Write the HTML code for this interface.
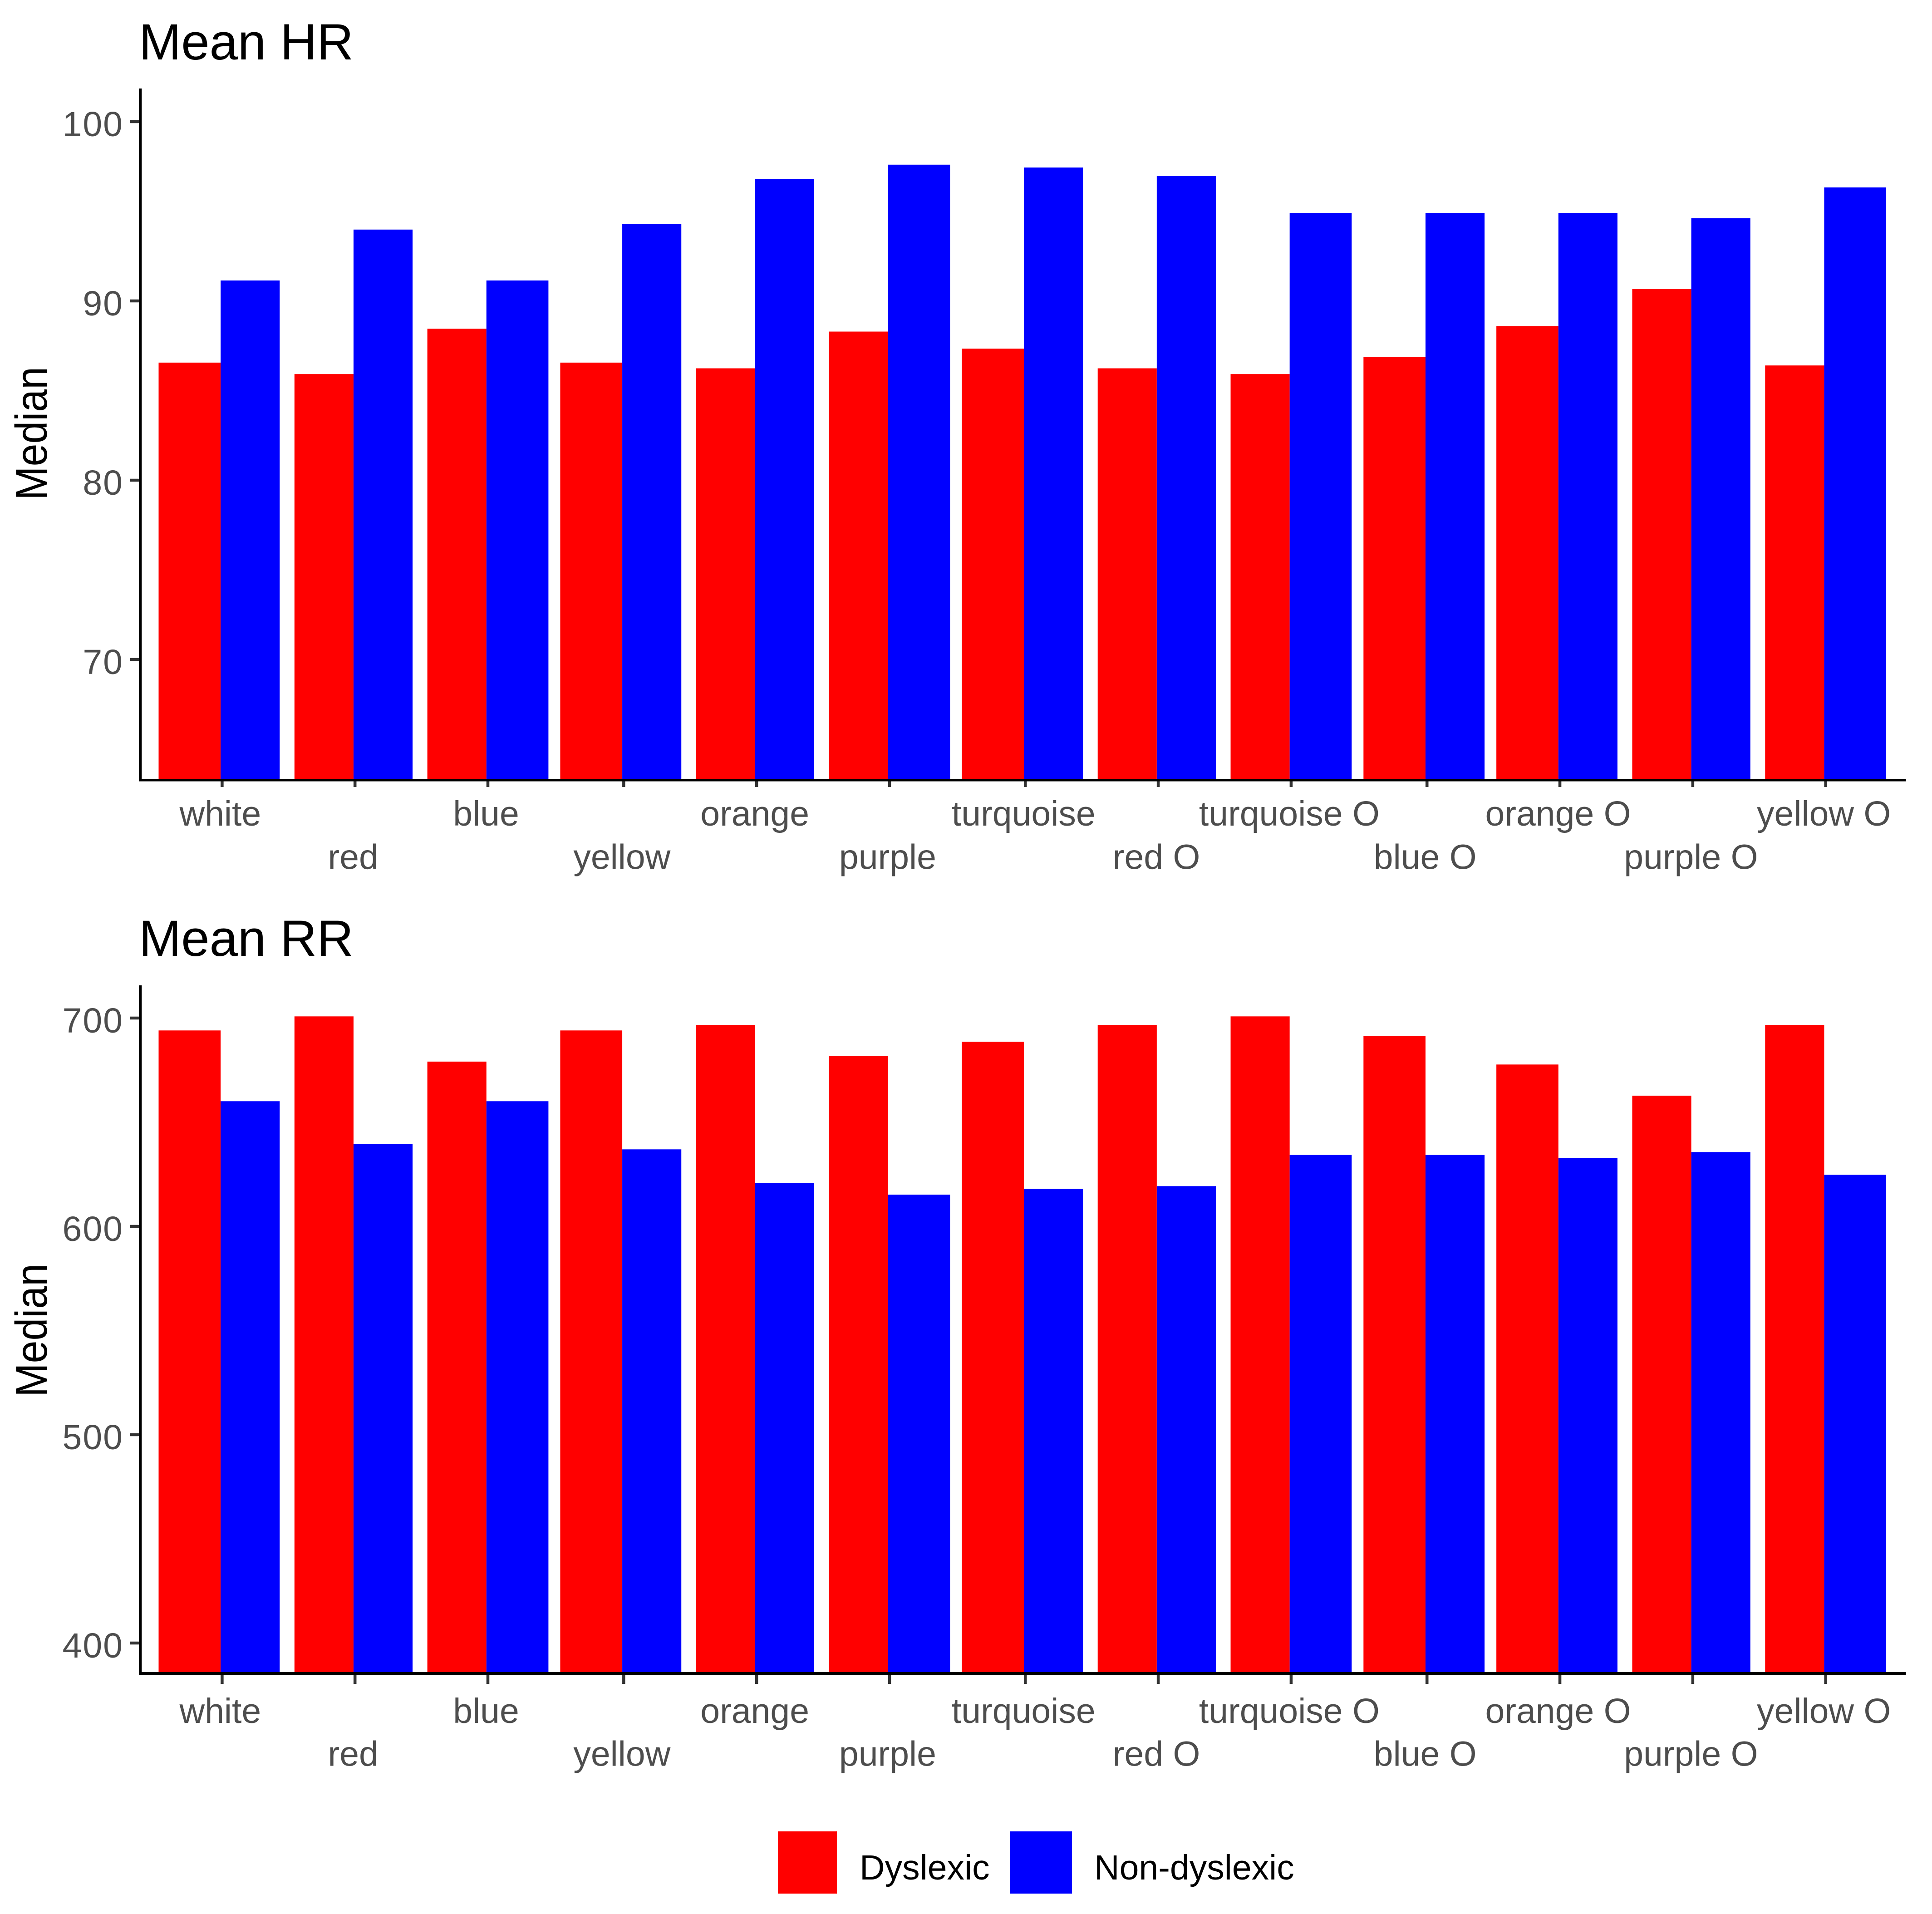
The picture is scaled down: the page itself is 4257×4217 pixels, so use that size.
<!DOCTYPE html>
<html lang="en">
<head>
<meta charset="utf-8">
<title>Mean HR and Mean RR by colour</title>
<style>
html,body{margin:0;padding:0;background:#fff;}
svg{display:block;font-family:"Liberation Sans",Arial,sans-serif;}
</style>
</head>
<body>
<svg id="chart" xmlns="http://www.w3.org/2000/svg" width="4257" height="4217" viewBox="0 0 4257 4217">
  <rect x="0" y="0" width="4257" height="4217" fill="#ffffff"/>
  <text x="306" y="131" font-size="112" fill="#000">Mean HR</text>
  <text x="306" y="2106" font-size="112" fill="#000">Mean RR</text>
  <text transform="translate(103 955) rotate(-90)" text-anchor="middle" font-size="98" textLength="294" lengthAdjust="spacingAndGlyphs" fill="#000">Median</text>
  <text transform="translate(103 2931) rotate(-90)" text-anchor="middle" font-size="98" textLength="294" lengthAdjust="spacingAndGlyphs" fill="#000">Median</text>
  <g id="hr-panel"></g>
  <g id="rr-panel"></g>
  <g>
    <rect x="1714" y="4035" width="130" height="137" fill="#ff0000"/>
    <text x="1894" y="4141" font-size="77" fill="#000">Dyslexic</text>
    <rect x="2225" y="4035" width="137" height="137" fill="#0000ff"/>
    <text x="2411" y="4141" font-size="77" fill="#000">Non-dyslexic</text>
  </g>
</svg>
<script>
const categories = ["white","red","blue","yellow","orange","purple","turquoise","red O","turquoise O","blue O","orange O","purple O","yellow O"];
const hrDyslexic = [86.56,85.92,88.45,86.56,86.24,88.29,87.34,86.24,85.92,86.87,88.60,90.66,86.40];
const hrNonDyslexic = [91.14,93.98,91.14,94.29,96.81,97.60,97.44,96.96,94.91,94.91,94.91,94.61,96.33];
const rrDyslexic = [694.05,700.8,679.1,694.05,696.73,681.7,688.6,696.73,700.8,691.3,677.7,662.75,696.73];
const rrNonDyslexic = [660.07,639.65,660.07,636.97,620.7,615.25,618.02,619.32,634.27,634.27,632.9,635.67,624.77];
const hrTicks = [70,80,90,100];
const rrTicks = [400,500,600,700];

const NS = 'http://www.w3.org/2000/svg';
const COLOR_A = '#ff0000', COLOR_B = '#0000ff';

/* source raster grid: the figure was enlarged from a coarse bitmap, so x edges snap to it */
const GRID = 6.507, GRID_OFF = -1.9;
const BAND0 = 75.3, BAND_STEP = 45.3, BAND_HALF = 20.385;
function gridX(p){ return GRID * p + GRID_OFF; }
function bandCenter(i){ return BAND0 + BAND_STEP * i; }
function snapX(v){ return gridX(Math.floor(v)); }

function linearY(d0, d1, r0, r1){
  return function(v){ return r0 + (v - d0) * (r1 - r0) / (d1 - d0); };
}
function rect(parent, x, y, w, h, fill){
  const r = document.createElementNS(NS, 'rect');
  r.setAttribute('x', x.toFixed(2));
  r.setAttribute('y', y.toFixed(2));
  r.setAttribute('width', w.toFixed(2));
  r.setAttribute('height', h.toFixed(2));
  r.setAttribute('fill', fill);
  parent.appendChild(r);
  return r;
}
function label(parent, x, y, str, anchor, spacing){
  const t = document.createElementNS(NS, 'text');
  t.setAttribute('x', x.toFixed(2));
  t.setAttribute('y', y.toFixed(2));
  t.setAttribute('font-size', '77');
  t.setAttribute('fill', '#4d4d4d');
  t.setAttribute('text-anchor', anchor);
  if (spacing) t.setAttribute('letter-spacing', spacing);
  t.textContent = str;
  parent.appendChild(t);
  return t;
}

function drawPanel(g, prefix, a, b, ticks, yScale, box){
  const yBase = box.bottom;
  categories.forEach(function(cat, i){
    const c = bandCenter(i);
    const left = snapX(c - BAND_HALF), mid = snapX(c), right = snapX(c + BAND_HALF);
    const ya = yScale(a[i]), yb = yScale(b[i]);
    const barA = rect(g, left, ya, mid - left, yBase - ya, COLOR_A);
    
    
    const barB = rect(g, mid, yb, right - mid, yBase - yb, COLOR_B);
    
    

    const tickPixel = Math.floor(c);
    const tick = rect(g, gridX(tickPixel), yBase, GRID, box.tickBottom - yBase, '#333333');
    
    

    const row = i % 2 === 0 ? box.labelRow1 : box.labelRow2;
    const txt = label(g, gridX(tickPixel) + GRID / 2 - 4, row, cat, 'middle');
    
    
  });

  ticks.forEach(function(v){
    const y = yScale(v);
    const tick = rect(g, 287, y - 3.25, 19, 6.5, '#333333');
    
    
    const txt = label(g, 272, y + 32, String(v), 'end', '2');
    
    
  });

  const yAxis = rect(g, 306, box.top, 6.3, box.axisBottom - box.top, '#000000');
  
  
  const xAxis = rect(g, 306, yBase, 4199.6 - 306, box.axisBottom - yBase, '#000000');
  
  
}

const hrY = linearY(100, 70, 268, 1453);
drawPanel(document.getElementById('hr-panel'), 'hr', hrDyslexic, hrNonDyslexic, hrTicks, hrY,
  {top:195, bottom:1716, axisBottom:1721.5, tickBottom:1734, labelRow1:1819, labelRow2:1914.5});

const rrY = linearY(700, 400, 2243, 3620);
drawPanel(document.getElementById('rr-panel'), 'rr', rrDyslexic, rrNonDyslexic, rrTicks, rrY,
  {top:2171, bottom:3684, axisBottom:3691, tickBottom:3710, labelRow1:3796, labelRow2:3890.7});
</script>
</body>
</html>
